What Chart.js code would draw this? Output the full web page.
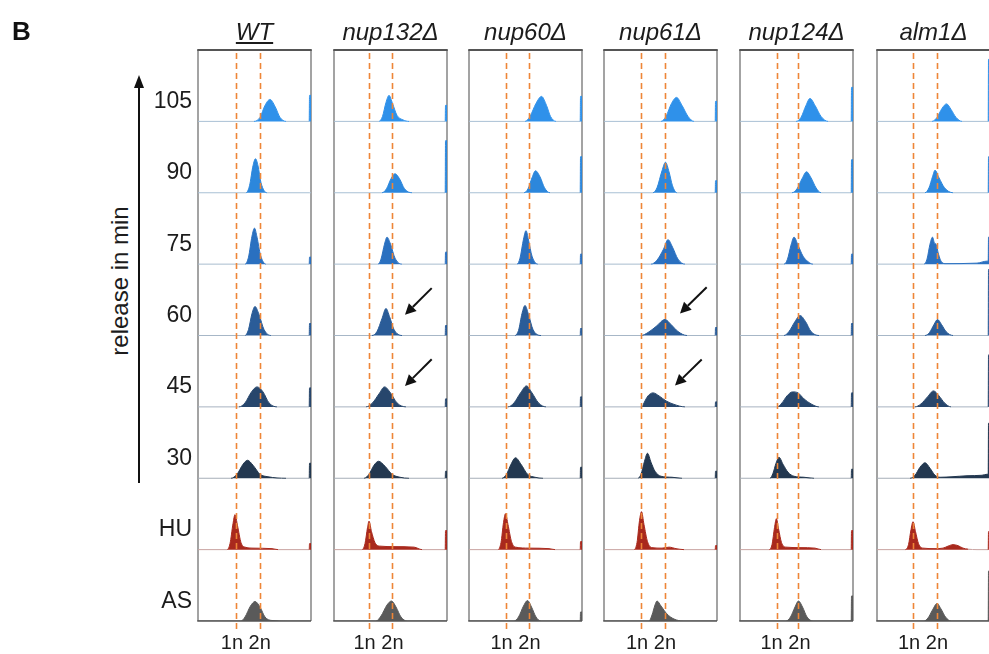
<!DOCTYPE html>
<html><head><meta charset="utf-8">
<script src="https://cdn.jsdelivr.net/npm/chart.js@4"></script>
<style>
html,body{margin:0;padding:0}
body{width:989px;height:654px;overflow:hidden;background:#fff;position:relative;font-family:"Liberation Sans",Arial,sans-serif;color:#1c1c1c}
.t{position:absolute;white-space:nowrap;line-height:1}
canvas{position:absolute}
</style></head><body>
<script>
// ---------------- DATA ----------------
const strains = ['WT','nup132Δ','nup60Δ','nup61Δ','nup124Δ','alm1Δ'];
const timepoints = ['105','90','75','60','45','30','HU','AS'];
const ploidyTicks = ['1n','2n'];
const oneNChannel = [38, 35, 37, 37, 37, 36];
const twoNChannel = [61.6, 58, 60, 61, 58, 60];

// histograms: [DNA channel, count], one list per time point (105 ... AS)
const histWT = [
 [[56,0],[62,4],[67,16],[72,22],[77,15],[82,4],[88,0]],
 [[48,0],[51.5,7],[55,27],[57.5,34],[60,27],[63,10],[69,0]],
 [[47,0],[50.5,7],[54,28],[56.5,36],[59,27],[62.5,9],[68,0]],
 [[47,0],[50.5,6],[54,22],[57,29],[61,21],[66,6],[73,0]],
 [[41,0],[47,4],[53.5,15],[59,20],[65,15],[71,4],[79,0]],
 [[33,0],[39,4],[45,14],[49.5,18],[55,13],[62,4],[70,1.5],[88,0]],
 [[29,0],[32,6],[35,26],[37,35],[39.5,24],[43,7],[47,2.5],[55,1.5],[74,1],[80,0]],
 [[43,0],[47,4],[52.5,15],[57,19.5],[62,14],[67,4],[74,0.5],[90,0]]
];
const histNup132 = [
 [[45,0],[48.5,5],[52,19],[55,26],[58.5,18],[63,6],[69,1.5],[75,0]],
 [[48,0],[52.5,4],[57,14],[61,19],[65.5,14],[70.5,4],[78,0]],
 [[44,0],[47,5],[50.5,20],[53,27],[56.5,20],[61,6],[68,0]],
 [[38,0],[43,4],[48,17],[52,27],[55.5,19],[60,6],[68,0]],
 [[32,0],[38.5,4],[45,13],[50.5,20],[56.5,14],[63,4],[72,0]],
 [[30,0],[35,4],[40,13],[44.5,17],[51,12],[58,4],[66,1],[75,0]],
 [[28,0],[31,6],[33.5,22],[35,28.5],[37.5,18],[41,7],[46,3.5],[60,3],[80,2.5],[88,0]],
 [[42,0],[47,5],[53,16],[57.5,20],[62,14],[67,4],[73,0]]
];
const histNup60 = [
 [[56,0],[61,5],[67,18],[72.5,25],[77.5,16],[81.5,5],[87,0]],
 [[55,0],[59,4],[63,15],[66.5,22],[71,16],[75.5,5],[81,0]],
 [[48,0],[51,6],[54.5,25],[57,33.5],[59.5,24],[63,8],[69,0]],
 [[46,0],[49.5,5],[53,22],[56,30],[59.5,21],[64,6],[72,0]],
 [[39,0],[45,4],[51.5,14],[57.5,21],[63,14],[69.5,4],[77,0]],
 [[33,0],[37.5,4],[42,14],[46.5,20.5],[52,14],[58.5,4],[66,1],[74,0]],
 [[29,0],[32,7],[34.5,27],[36.5,36],[39,25],[42.5,8],[46.5,2.5],[60,1.5],[80,1],[86,0]],
 [[45,0],[49.5,4],[54.5,15],[58.5,20.5],[62.5,14],[67,4],[72,0]]
];
const histNup61 = [
 [[57,0],[62,5],[67.5,18],[72.5,24],[78,16],[84,5],[90,0]],
 [[49,0],[53,5],[58,22],[61.5,30.5],[65,21],[68.5,7],[73,0]],
 [[47,0],[53,4],[59.5,15],[64,24.5],[68.5,17],[74,5],[81,0]],
 [[37,0],[44,3],[52,9],[61,16],[67,11],[74,4],[83,0]],
 [[38,0],[40,4],[44,11],[49,14],[55,11],[62,6],[70,2.5],[81,0]],
 [[34,0],[37,4],[40.5,17],[43.5,25],[47,16],[51,7],[57,2],[68,1],[78,0]],
 [[30,0],[33,7],[35.5,29],[37.5,38],[40,25],[43.5,8],[48,2],[58,1.5],[65,2.5],[72,1],[80,0]],
 [[45,0],[48,6],[51,16],[53,20],[57,15],[63,7],[70,2],[79,0]]
];
const histNup124 = [
 [[56,0],[61,4],[66,16],[70,23],[75,16],[81,5],[88,0]],
 [[52,0],[57,4],[62,14],[66.5,21],[71,15],[76,5],[81,0]],
 [[44,0],[47.5,5],[51,19],[54,27],[58,19],[63,8],[68,2.5],[73,0]],
 [[44,0],[49,4],[55,14],[60,20],[65.5,14],[71,4],[79,0]],
 [[37,0],[42,4],[47,11],[52.5,15],[58,14],[64,8],[71,3],[79,0]],
 [[30,0],[33,5],[36,15],[39,21],[43,14],[48,6],[54,2],[64,1],[74,0]],
 [[29,0],[32,5],[34.5,22],[36.4,31],[38.5,21],[41.5,7],[46,2.5],[60,2],[75,1.5],[81,0]],
 [[46,0],[50.5,4],[55,14],[58.5,20],[62.5,14],[67,4],[73,0]]
];
const histAlm1 = [
 [[55,0],[60,4],[65,13],[69.5,17.5],[74,12],[79,4],[85,0]],
 [[48,0],[52,5],[55.5,16],[58,22.5],[62,15],[67.5,5],[76,0]],
 [[47,0],[50,5],[53,20],[55.5,27],[57.5,21],[59,20],[61.5,10],[64,3],[68,0.5],[100,1],[110,3]],
 [[48,0],[52.5,3],[57,11],[60.5,16],[64.5,11],[69,4],[76,0]],
 [[38,0],[44,3],[50.5,10],[56.5,16],[62,11],[67.5,4],[74,0]],
 [[33,0],[38,3],[43,11],[48,15.5],[53,10],[58,3],[63,1],[75,1.5],[90,2.5],[105,3],[110,4]],
 [[28,0],[31.5,5],[34,20],[36,28],[38.5,18],[41.5,6],[46,1.5],[58,1],[66,1.5],[71,3.5],[76,5],[81,4],[86,1.5],[91,0.5],[100,0]],
 [[47,0],[51,3],[55.5,11],[60,17.5],[64,12],[68.5,4],[74,0]]
];
// counts piled in the last (overflow) channel, per time point
const overflowWT     = [26, 0, 7, 12, 19, 15, 6, 0];
const overflowNup132 = [16, 52, 12, 10, 8, 7, 19, 0];
const overflowNup60  = [25, 36, 10, 7, 10, 11, 8, 9];
const overflowNup61  = [20, 12, 0, 8, 5, 7, 4, 0];
const overflowNup124 = [34, 33, 10, 12, 14, 9, 19, 25];
const overflowAlm1   = [62, 36, 27, 66, 52, 55, 18, 50];

// annotation arrows (data space: channel, count above the row baseline)
const arrowsNup132 = [{row:'60', from:[97.7,47.4], to:[71,20.7]}, {row:'45', from:[97.7,47.7], to:[71,21]}];
const arrowsNup61  = [{row:'60', from:[102.7,48.2], to:[76,22]}, {row:'45', from:[97.7,47.4], to:[71,21.3]}];

// ---------------- LAYOUT / STYLE ----------------
const hists = [histWT, histNup132, histNup60, histNup61, histNup124, histAlm1];
const overflows = [overflowWT, overflowNup132, overflowNup60, overflowNup61, overflowNup124, overflowAlm1];
const arrows = [[], arrowsNup132, [], arrowsNup61, [], []];
const panelLeft = [198, 334, 469, 604, 740, 877];
const PW = 113, TOP = 50, BOTTOM = 621, PAD = 8;
const NROW = timepoints.length;
const ROWH = (BOTTOM - TOP) / NROW;   // one row = ROWH count units
const CH_MAX = 113;
const rowFill = ['#2F91EA','#2C87DC','#2A70C0','#2A5C98','#27466C','#233850','#A9291D','#5A5A5A'];
const rowBase = ['#A9C0D4','#A9C0D4','#A8BCCE','#A7B7C7','#A7B3C0','#A7AFB8','#C9A3A1','#5A5A5A'];

const decor = {
  id: 'panelDecor',
  beforeDatasetsDraw(chart, args, o) {
    const {ctx, chartArea: a} = chart;
    ctx.save();
    ctx.lineWidth = 1.5; ctx.strokeStyle = '#858585';
    ctx.beginPath();
    ctx.moveTo(a.left, a.top); ctx.lineTo(a.left, a.bottom);
    ctx.moveTo(a.right, a.top); ctx.lineTo(a.right, a.bottom);
    ctx.stroke();
    ctx.restore();
  },
  afterDatasetsDraw(chart, args, o) {
    const {ctx, chartArea: a, scales: {x, y}} = chart;
    ctx.save();
    ctx.strokeStyle = '#555'; ctx.lineWidth = 2;
    ctx.beginPath(); ctx.moveTo(a.left - 0.75, a.top); ctx.lineTo(a.right + 0.75, a.top); ctx.stroke();
    ctx.lineWidth = 1.5;
    ctx.beginPath(); ctx.moveTo(a.left - 0.75, a.bottom); ctx.lineTo(a.right, a.bottom); ctx.stroke();
    ctx.strokeStyle = '#EE8638'; ctx.lineWidth = 1.6; ctx.setLineDash([6, 4]);
    [o.oneN, o.twoN].forEach(v => {
      const px = Math.round(x.getPixelForValue(v)) + 0.5;
      ctx.beginPath(); ctx.moveTo(px, a.top + 3); ctx.lineTo(px, a.bottom + 12); ctx.stroke();
    });
    ctx.setLineDash([]);
    (o.arrows || []).forEach(ar => {
      const k = timepoints.indexOf(ar.row);
      const base = (NROW - 1 - k) * ROWH;
      const x1 = x.getPixelForValue(ar.from[0]), y1 = y.getPixelForValue(base + ar.from[1]);
      const x2 = x.getPixelForValue(ar.to[0]), y2 = y.getPixelForValue(base + ar.to[1]);
      const ang = Math.atan2(y2 - y1, x2 - x1), L = 11, W = 5.5;
      const bx = x2 - L * Math.cos(ang), by = y2 - L * Math.sin(ang);
      ctx.strokeStyle = '#111'; ctx.fillStyle = '#111'; ctx.lineWidth = 2;
      ctx.beginPath(); ctx.moveTo(x1, y1); ctx.lineTo(bx, by); ctx.stroke();
      ctx.beginPath(); ctx.moveTo(x2, y2);
      ctx.lineTo(bx + W * Math.sin(ang), by - W * Math.cos(ang));
      ctx.lineTo(bx - W * Math.sin(ang), by + W * Math.cos(ang));
      ctx.closePath(); ctx.fill();
    });
    ctx.restore();
  }
};

function datasetsFor(p) {
  return hists[p].map((h, k) => {
    const base = (NROW - 1 - k) * ROWH;
    const ov = overflows[p][k];
    const pts = [[0, 0], ...h];
    pts.push([111.2, h[h.length - 1][1]]);
    if (ov > 0) { pts.push([111.5, ov], [CH_MAX, ov]); } else { pts.push([CH_MAX, 0]); }
    return {
      label: timepoints[k],
      data: pts.map(q => ({x: q[0], y: base + q[1]})),
      fill: {value: base},
      backgroundColor: rowFill[k],
      borderWidth: 1,
      borderColor: rowBase[k],
      segment: {
        borderColor: c => (c.p0.parsed.y - base < 0.8 && c.p1.parsed.y - base < 0.8) ? rowBase[k] : rowFill[k]
      },
      cubicInterpolationMode: 'monotone',
      pointRadius: 0
    };
  });
}

function addText(txt, css) {
  const d = document.createElement('div');
  d.className = 't'; d.textContent = txt;
  Object.assign(d.style, css);
  document.body.appendChild(d);
  return d;
}

strains.forEach((s, p) => {
  const cv = document.createElement('canvas');
  const w = PW + 2 * PAD, h = 654 - (TOP - PAD);
  cv.width = w; cv.height = h;
  cv.style.left = (panelLeft[p] - PAD) + 'px'; cv.style.top = (TOP - PAD) + 'px';
  cv.style.width = w + 'px'; cv.style.height = h + 'px';
  document.body.appendChild(cv);
  new Chart(cv, {
    type: 'line',
    data: {datasets: datasetsFor(p)},
    options: {
      responsive: false, animation: false, events: [], devicePixelRatio: 1,
      layout: {padding: {left: PAD, right: PAD, top: PAD, bottom: h - PAD - (BOTTOM - TOP)}},
      scales: {
        x: {type: 'linear', min: 0, max: CH_MAX, display: false},
        y: {type: 'linear', min: 0, max: NROW * ROWH, display: false}
      },
      plugins: {
        legend: {display: false}, tooltip: {enabled: false},
        panelDecor: {oneN: oneNChannel[p], twoN: twoNChannel[p], arrows: arrows[p]}
      }
    },
    plugins: [decor]
  });
  // column title
  const t = addText(s, {left: (panelLeft[p] + PW / 2) + 'px', top: '32px', transform: 'translate(-50%,-50%)',
    fontStyle: 'italic', fontSize: '24px'});
  if (s === 'WT') t.style.textDecoration = 'underline';
  // 1n 2n
  const c1 = panelLeft[p] + oneNChannel[p] * PW / CH_MAX, c2 = panelLeft[p] + twoNChannel[p] * PW / CH_MAX;
  addText(ploidyTicks.join(' '), {left: ((c1 + c2) / 2 - 2) + 'px', top: '642px', transform: 'translate(-50%,-50%)', fontSize: '20px'});
});

timepoints.forEach((tp, k) => {
  const base = TOP + (k + 1) * ROWH;
  addText(tp, {right: (989 - 192) + 'px', top: (base - 21.5) + 'px', transform: 'translateY(-50%)', fontSize: '23px', textAlign: 'right'});
});
addText('B', {left: '12px', top: '31px', transform: 'translateY(-50%)', fontSize: '26px', fontWeight: 'bold', color: '#111'});
addText('release in min', {left: '120px', top: '281px', transform: 'translate(-50%,-50%) rotate(-90deg)', fontSize: '24px'});
const svgNS = 'http://www.w3.org/2000/svg';
const svg = document.createElementNS(svgNS, 'svg');
svg.setAttribute('width', '20'); svg.setAttribute('height', '420');
svg.style.position = 'absolute'; svg.style.left = '129px'; svg.style.top = '70px';
svg.innerHTML = '<line x1="10" y1="16" x2="10" y2="413" stroke="#111" stroke-width="2"/><polygon points="10,5 5,18 15,18" fill="#111"/>';
document.body.appendChild(svg);
</script>
</body></html>
